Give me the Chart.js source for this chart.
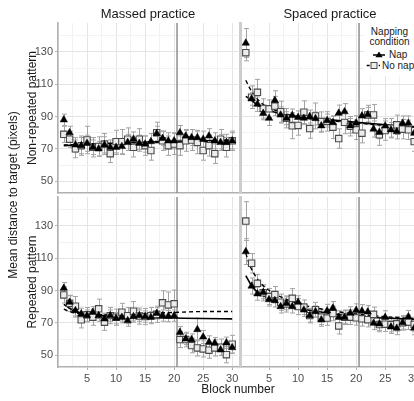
<!DOCTYPE html>
<html>
<head>
<meta charset="utf-8">
<script src="https://cdn.jsdelivr.net/npm/chart.js@4.4.1/dist/chart.umd.min.js"></script>
<style>
  body { margin: 0; background: #fff; overflow: hidden; }
  #wrap { position: relative; width: 414px; height: 401px; overflow: hidden;
          font-family: "Liberation Sans", Arial, sans-serif; color: #1a1a1a; }
  canvas { position: absolute; }
  .t { position: absolute; white-space: nowrap; line-height: 1; }
  .strip { font-size: 13px; top: 7px; transform: translateX(-50%); }
  .rot { font-size: 12px; transform: translate(-50%, -50%) rotate(-90deg); }
  #legend { position: absolute; left: 364px; top: 24px; width: 56px; height: 52px; background: #fff; z-index: 5; }
  .lg { position: absolute; font-size: 10px; line-height: 10px; }
</style>
</head>
<body>
<div id="wrap">
  <canvas id="massedNonRep" width="240" height="182" style="left:0;top:15px"></canvas>
  <canvas id="spacedNonRep" width="184" height="182" style="left:238px;top:15px"></canvas>
  <canvas id="massedRep" width="240" height="212" style="left:0;top:189px"></canvas>
  <canvas id="spacedRep" width="184" height="212" style="left:238px;top:189px"></canvas>

  <div class="t strip" style="left:148px">Massed practice</div>
  <div class="t strip" style="left:330px">Spaced practice</div>
  <div class="t rot" style="left:13px;top:195px">Mean distance to target (pixels)</div>
  <div class="t rot" style="left:32px;top:108px">Non-repeated pattern</div>
  <div class="t rot" style="left:32px;top:282px">Repeated pattern</div>
  <div class="t" style="left:238px;top:383px;font-size:12px;transform:translateX(-50%)">Block number</div>

  <div id="legend">
    <div class="lg" style="left:0;top:3px;width:51px;text-align:center">Napping<br>condition</div>
    <svg style="position:absolute;left:0;top:0" width="56" height="52">
      <line x1="9" y1="31" x2="21" y2="31" stroke="#000" stroke-width="1.5"/>
      <polygon points="15,27.5 18.6,33.3 11.4,33.3" fill="#000"/>
      <line x1="2.7" y1="41.5" x2="16" y2="41.5" stroke="#000" stroke-width="1.3" stroke-dasharray="3,3"/>
      <rect x="7" y="38.5" width="6" height="6" fill="#ececec" stroke="#4a4a4a" stroke-width="1"/>
    </svg>
    <div class="lg" style="left:25px;top:26px">Nap</div>
    <div class="lg" style="left:18px;top:36.5px">No nap</div>
  </div>
</div>

<script>
const blocks = [1, 2, 3, 4, 5, 6, 7, 8, 9, 10, 11, 12, 13, 14, 15, 16, 17, 18, 19, 20, 21, 22, 23, 24, 25, 26, 27, 28, 29, 30];
const sessionSplit = 20.5;

// Massed practice, non-repeated pattern
const massedNonRepNap   = [88, 80, 72.5, 72, 73.5, 71, 70, 72.5, 71, 71, 71.5, 74, 76, 73.5, 73, 74.5, 79.5, 76.5, 75, 75, 80, 78, 77, 77, 76, 78, 75, 74, 74, 75];
const massedNonRepNoNap = [79, 76, 70, 72, 75.5, 71, 71.5, 73, 67, 74.5, 74.5, 76, 71, 76, 72, 69, 80, 75, 72, 73, 72, 75, 75.5, 74, 69, 72, 67, 76, 71, 75];
const massedNonRepNapErr   = [3.5, 4, 4.5, 5, 5, 4.5, 4.5, 5, 4.5, 4.5, 5, 5, 4.5, 5, 5, 5, 4.5, 4.5, 5, 5, 4.5, 4, 5, 4.5, 5, 4.5, 5, 5, 5, 5];
const massedNonRepNoNapErr = [5, 5, 5.5, 6, 8.5, 6, 6, 6.5, 5.5, 7, 7.5, 7, 6, 6.5, 6, 6, 6.5, 6, 6, 6.5, 6, 6.5, 6.5, 7, 6, 6.5, 6, 6, 6, 6];
const massedNonRepNapFitX = [1, 10, 20, 30];
const massedNonRepNapFitY = [72, 73.6, 74.7, 75.4];
const massedNonRepNoNapFitX = [1, 10, 20, 30];
const massedNonRepNoNapFitY = [72.4, 73.5, 74.3, 74.8];

// Spaced practice, non-repeated pattern
const spacedNonRepNap   = [135.5, 101, 97.7, 92, 89, 100, 91, 89, 90.7, 89.5, 89, 90, 88.8, 84.3, 87.5, 86.3, 92.1, 93, 84.3, 86, 90.4, 91.2, 82.3, 80.3, 84.2, 81.8, 80.7, 85.9, 85.9, 79.7];
const spacedNonRepNoNap = [129.5, 102, 105, 95, 94.8, 96.5, 93, 89, 84.3, 84.5, 92.7, 82.6, 90.4, 86.9, 87, 83.4, 76.4, 86.4, 84, 81.8, 79.7, 91, 91, 78.7, 81.3, 82.8, 84.9, 82.2, 81.8, 74.5];
const spacedNonRepNapErr   = [9, 4, 4.5, 4, 4.5, 6, 5, 4, 4, 4, 4, 4, 4, 4, 4, 4, 5, 5, 4.5, 4.5, 4.5, 4.5, 5, 4, 4.5, 4.5, 4.5, 4.5, 4.5, 4.5];
const spacedNonRepNoNapErr = [5, 7, 8, 6, 5.5, 6, 6.5, 6, 8, 6, 7, 6, 8, 6, 6, 7, 6, 7, 6, 6, 6, 6, 6.5, 6.5, 6, 6, 6, 6, 6, 6];
const spacedNonRepNapFitX = [1, 2, 3.4, 5.7, 8.6, 11.5, 15.5, 20, 30];
const spacedNonRepNapFitY = [102.5, 100, 96.2, 93, 90.5, 89, 88, 86.5, 83.5];
const spacedNonRepNoNapFitX = [1, 1.7, 2.6, 4, 6, 10, 20, 30];
const spacedNonRepNoNapFitY = [112.5, 107.5, 102.5, 97.5, 94, 90, 86, 83.5];

// Massed practice, repeated pattern
const massedRepNap   = [91.5, 82.8, 77.6, 75.6, 74.5, 76.6, 74.5, 72.5, 74.5, 72.9, 73.5, 71.4, 73.9, 74.5, 73.9, 73.5, 75.9, 74.5, 74.2, 74.5, 64.2, 60.1, 59.7, 65.9, 61.3, 58, 57.5, 53.3, 57.7, 54.7];
const massedRepNoNap = [87.3, 82.1, 80.3, 71.9, 75, 73.5, 78.7, 70.4, 74.5, 73.5, 76.6, 74.5, 77.2, 74.2, 73.9, 74.5, 75.3, 82.4, 81.1, 81.8, 59.7, 59.7, 56, 54.5, 53.9, 53.1, 54.5, 55, 50.3, 56.8];
const massedRepNapErr   = [3.5, 4, 4, 3.5, 3.5, 3.5, 3.5, 3.5, 3.5, 3.5, 3.5, 3.5, 3.5, 3.5, 3.5, 3.5, 3.5, 3.5, 3.5, 3.5, 3.5, 3.5, 3.5, 7, 4, 4, 3.5, 3.5, 3.5, 3.5];
const massedRepNoNapErr = [5, 5, 6, 5, 4.5, 5, 6, 5, 5, 5, 5.5, 5, 6, 5, 5, 5, 5, 7.5, 8, 8.5, 5, 4.5, 4.5, 5, 5, 5, 5, 5, 5, 5.5];
const massedRepNapFitX = [1, 2, 3, 4, 6, 10, 15, 20, 25, 30];
const massedRepNapFitY = [81.5, 79, 77, 75.8, 74.8, 74, 73.3, 73, 72.7, 72.5];
const massedRepNoNapFitX = [1, 2, 4, 8, 14, 20, 25, 30];
const massedRepNoNapFitY = [78.5, 77, 75.5, 75, 75.5, 76.5, 77, 77];

// Spaced practice, repeated pattern
const spacedRepNap   = [114.1, 92.8, 88, 88.9, 84.4, 83.8, 80.1, 82.1, 80.1, 82.8, 78, 74.5, 77, 71.9, 77.5, 79.2, 73.5, 73.5, 76, 77.8, 77.3, 76.8, 69.8, 69.4, 73.5, 67.5, 66.7, 70.1, 73.7, 66.7];
const spacedRepNoNap = [133, 106.9, 94.5, 88.6, 86.3, 87.5, 82.8, 81.7, 85.2, 80.1, 79.7, 74.5, 78.2, 73.5, 73, 75.8, 68.1, 73.5, 73.5, 73.1, 72.5, 72, 75.3, 69, 69.2, 68.9, 69.4, 70, 70.4, 69];
const spacedRepNapErr   = [8, 5, 4, 4, 4, 4, 4, 4, 4, 4, 4, 4, 3.5, 4, 4, 4, 4, 4, 4, 4, 4, 4, 4, 4, 4, 4, 4, 4, 4, 4];
const spacedRepNoNapErr = [12, 6, 5.5, 5, 5, 5, 5, 5, 6, 5, 4.5, 4.5, 4.5, 4.5, 4.5, 4.5, 5, 4.5, 4.5, 4.5, 4.5, 4.5, 4.5, 4.5, 4.5, 4.5, 4.5, 4.5, 4.5, 4.5];
const spacedRepNapFitX = [1, 2, 3, 5, 7.5, 10, 15, 20, 25, 30];
const spacedRepNapFitY = [99.3, 93, 89, 85, 81.5, 79, 76.2, 74, 73, 72.2];
const spacedRepNoNapFitX = [1, 1.7, 2.6, 4, 6, 10, 15, 20, 30];
const spacedRepNoNapFitY = [113, 105.5, 99.3, 93, 88, 82, 78, 75.5, 72.5];

const FONT = '"Liberation Sans", Arial, sans-serif';
const majorGrid = '#e4e4e4';
const minorGrid = '#f2f2f2';
const axisGrey = '#b0b0b0';

function xy(xs, ys) {
  return xs.map((x, i) => ({ x: x, y: ys[i] }));
}

// fixed axis sizes, no label overflow padding
function fixSize(s, w, h) {
  if (w !== null) s.width = w;
  if (h !== null) s.height = h;
  s.paddingTop = 0; s.paddingBottom = 0; s.paddingLeft = 0; s.paddingRight = 0;
}

// error bars and the session line, drawn under the points
const errorBars = {
  id: 'errorBars',
  beforeDatasetsDraw(chart, args, opts) {
    const { ctx, chartArea: a, scales: { x, y } } = chart;
    ctx.save();
    ctx.beginPath();
    ctx.rect(a.left, a.top, a.width, a.height);
    ctx.clip();

    const vx = x.getPixelForValue(sessionSplit);
    ctx.strokeStyle = '#8f8f8f';
    ctx.lineWidth = 1.5;
    ctx.beginPath();
    ctx.moveTo(vx, a.top);
    ctx.lineTo(vx, a.bottom);
    ctx.stroke();

    ctx.strokeStyle = '#a3a3a3';
    ctx.lineWidth = 1;
    opts.series.forEach(s => {
      s.mean.forEach((m, i) => {
        const px = Math.round(x.getPixelForValue(blocks[i])) + 0.5;
        const top = y.getPixelForValue(m + s.err[i]);
        const bot = y.getPixelForValue(m - s.err[i]);
        ctx.beginPath();
        ctx.moveTo(px, top); ctx.lineTo(px, bot);
        ctx.moveTo(px - 2.5, top); ctx.lineTo(px + 2.5, top);
        ctx.moveTo(px - 2.5, bot); ctx.lineTo(px + 2.5, bot);
        ctx.stroke();
      });
    });
    ctx.restore();
  }
};

function panel(id, o) {
  return new Chart(document.getElementById(id), {
    type: 'scatter',
    data: {
      datasets: [
        { label: 'Nap', data: xy(blocks, o.nap), pointStyle: 'triangle', pointRadius: 4.3,
          backgroundColor: '#000', borderColor: '#000', borderWidth: 0.5 },
        { label: 'No nap', data: xy(blocks, o.noNap), pointStyle: 'rect', pointRadius: 4.5,
          backgroundColor: '#ececec', borderColor: '#4a4a4a', borderWidth: 1.1 },
        { type: 'line', data: xy(o.napFit[0], o.napFit[1]), borderColor: '#000', borderWidth: 1.6,
          pointRadius: 0, cubicInterpolationMode: 'monotone', fill: false },
        { type: 'line', data: xy(o.noNapFit[0], o.noNapFit[1]), borderColor: '#000', borderWidth: 1.4,
          borderDash: [4, 3], pointRadius: 0, cubicInterpolationMode: 'monotone', fill: false }
      ]
    },
    options: {
      responsive: false,
      animation: false,
      layout: { autoPadding: false, padding: o.pad },
      plugins: {
        legend: { display: false },
        tooltip: { enabled: false },
        errorBars: { series: [
          { mean: o.noNap, err: o.noNapErr },
          { mean: o.nap, err: o.napErr }
        ] }
      },
      scales: {
        x: {
          type: 'linear', min: 0, max: 31,
          afterFit: s => fixSize(s, null, o.xH),
          ticks: { display: o.xLabels, stepSize: 2.5, includeBounds: false, autoSkip: false, maxRotation: 0,
                   padding: 2, color: '#4d4d4d', font: { family: FONT, size: 11 },
                   callback: v => (v % 5 === 0 && v > 0) ? String(v) : '' },
          grid: { drawTicks: o.xLabels, tickLength: 3,
                  tickColor: c => (c.tick && c.tick.value % 5 === 0 && c.tick.value > 0) ? axisGrey : 'rgba(0,0,0,0)',
                  color: c => (c.tick && c.tick.value % 5 === 0) ? majorGrid : minorGrid },
          border: { color: axisGrey, width: 1.5 }
        },
        y: {
          min: 42.7, max: 147.9,
          afterFit: s => fixSize(s, o.yW, null),
          ticks: { display: o.yLabels, stepSize: 10, includeBounds: false, padding: 2,
                   color: '#4d4d4d', font: { family: FONT, size: 11 },
                   callback: v => ((v - 50) % 20 === 0) ? String(v) : '' },
          grid: { drawTicks: o.yLabels, tickLength: 3,
                  tickColor: c => (c.tick && (c.tick.value - 50) % 20 === 0) ? axisGrey : 'rgba(0,0,0,0)',
                  color: c => (c.tick && (c.tick.value - 50) % 20 === 0) ? majorGrid : minorGrid },
          border: { color: o.yBorder, width: o.yBorderW }
        }
      }
    },
    plugins: [errorBars]
  });
}

panel('massedNonRep', {
  nap: massedNonRepNap, noNap: massedNonRepNoNap, napErr: massedNonRepNapErr, noNapErr: massedNonRepNoNapErr,
  napFit: [massedNonRepNapFitX, massedNonRepNapFitY], noNapFit: [massedNonRepNoNapFitX, massedNonRepNoNapFitY],
  pad: { left: 0, top: 8, right: 2, bottom: 4 }, xH: 0, yW: 58, xLabels: false, yLabels: true,
  yBorder: axisGrey, yBorderW: 1.5
});

panel('spacedNonRep', {
  nap: spacedNonRepNap, noNap: spacedNonRepNoNap, napErr: spacedNonRepNapErr, noNapErr: spacedNonRepNoNapErr,
  napFit: [spacedNonRepNapFitX, spacedNonRepNapFitY], noNapFit: [spacedNonRepNoNapFitX, spacedNonRepNoNapFitY],
  pad: { left: 2, top: 8, right: 2, bottom: 4 }, xH: 0, yW: 0, xLabels: false, yLabels: false,
  yBorder: '#cdcdcd', yBorderW: 3
});

panel('massedRep', {
  nap: massedRepNap, noNap: massedRepNoNap, napErr: massedRepNapErr, noNapErr: massedRepNoNapErr,
  napFit: [massedRepNapFitX, massedRepNapFitY], noNapFit: [massedRepNoNapFitX, massedRepNoNapFitY],
  pad: { left: 0, top: 8, right: 2, bottom: 0 }, xH: 34, yW: 58, xLabels: true, yLabels: true,
  yBorder: axisGrey, yBorderW: 1.5
});

panel('spacedRep', {
  nap: spacedRepNap, noNap: spacedRepNoNap, napErr: spacedRepNapErr, noNapErr: spacedRepNoNapErr,
  napFit: [spacedRepNapFitX, spacedRepNapFitY], noNapFit: [spacedRepNoNapFitX, spacedRepNoNapFitY],
  pad: { left: 2, top: 8, right: 2, bottom: 0 }, xH: 34, yW: 0, xLabels: true, yLabels: false,
  yBorder: '#cdcdcd', yBorderW: 3
});
</script>
</body>
</html>
